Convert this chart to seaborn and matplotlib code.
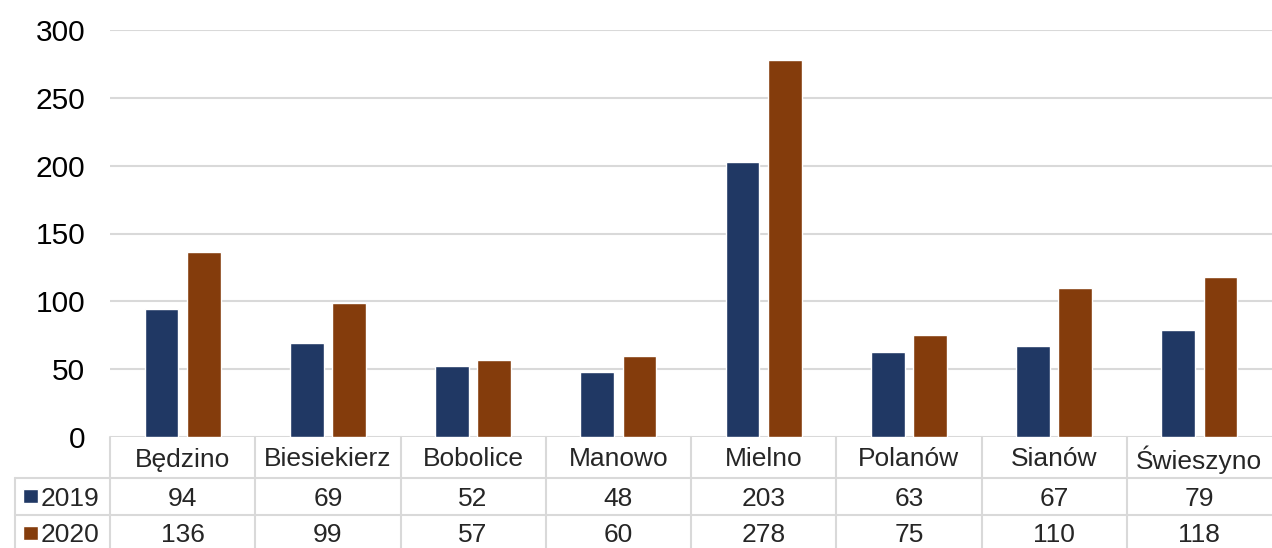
import pandas as pd
import seaborn as sns
import matplotlib.pyplot as plt
from matplotlib.patches import Rectangle
from matplotlib.transforms import blended_transform_factory

categories = ["Będzino", "Biesiekierz", "Bobolice", "Manowo", "Mielno", "Polanów", "Sianów", "Świeszyno"]
years = ["2019", "2020"]
values_2019 = [94, 69, 52, 48, 203, 63, 67, 79]
values_2020 = [136, 99, 57, 60, 278, 75, 110, 118]
colors = ["#203864", "#843C0C"]

df = pd.DataFrame({
    "gmina": categories * 2,
    "rok": [years[0]] * len(categories) + [years[1]] * len(categories),
    "wartosc": values_2019 + values_2020,
})

sns.set_theme(style="white")
plt.rcParams["font.family"] = ["Liberation Sans", "DejaVu Sans"]

fig = plt.figure(figsize=(12.72, 5.48), dpi=100)
ax = fig.add_axes([110 / 1272, 1 - 437 / 548, 1162 / 1272, 407 / 548])

sns.barplot(data=df, x="gmina", y="wartosc", hue="rok", palette=colors,
            width=0.58, gap=0.2, ax=ax, legend=False, saturation=1)

ax.set_ylim(0, 300)
ax.set_xlim(-0.5, len(categories) - 0.5)
ax.set_yticks(range(0, 301, 50))
ax.yaxis.grid(True, color="#D9D9D9", linewidth=1.5)
ax.set_axisbelow(True)
for s in ax.spines.values():
    s.set_visible(False)
ax.tick_params(axis="y", length=0, pad=18, labelsize=21.5, labelcolor="black")
ax.set_xticks([])
ax.set_xlabel("")
ax.set_ylabel("")

# data table below the plot
line_kw = dict(color="#D9D9D9", linewidth=1.5, transform=ax.transAxes, clip_on=False)
h_bot = -(478 - 437) / 407
r1_bot = -(515 - 437) / 407
tab_bot = -0.30
left_x = (15 - 110) / 1162
for k in range(len(categories)):
    ax.plot([k / len(categories)] * 2, [0, tab_bot], **line_kw)
ax.plot([left_x, left_x], [h_bot, tab_bot], **line_kw)
ax.plot([left_x, 1], [h_bot, h_bot], **line_kw)
ax.plot([left_x, 1], [r1_bot, r1_bot], **line_kw)

trans = blended_transform_factory(ax.transData, ax.transAxes)
row_y = [-(496 - 437) / 407, -(533 - 437) / 407]
for i, cat in enumerate(categories):
    ax.text(i, -(457 - 437) / 407, cat, transform=trans, ha="center", va="center_baseline",
            fontsize=19, clip_on=False)
    for y, vals in zip(row_y, [values_2019, values_2020]):
        ax.text(i, y, str(vals[i]), transform=trans, ha="center", va="center_baseline",
                fontsize=19, clip_on=False)

for y, yr, c in zip(row_y, years, colors):
    ax.add_patch(Rectangle(((23 - 110) / 1162, y - 7 / 407), 15 / 1162, 14 / 407,
                           facecolor=c, transform=ax.transAxes, clip_on=False))
    ax.text((41 - 110) / 1162, y, yr, transform=ax.transAxes, ha="left", va="center_baseline",
            fontsize=19, clip_on=False)

fig.savefig("out.png", dpi=100)
